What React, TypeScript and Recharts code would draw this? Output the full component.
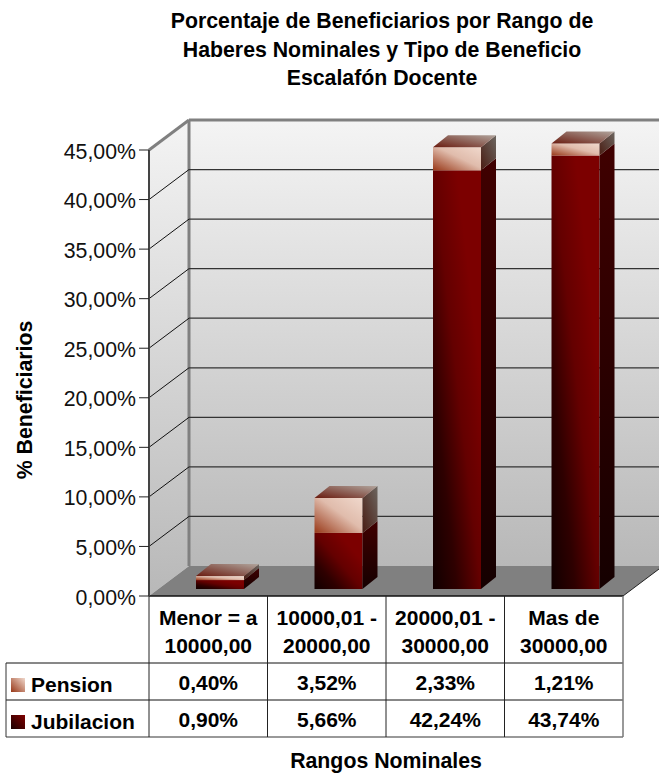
import React from "react"
import { BarChart, Bar, XAxis, YAxis, CartesianGrid } from "recharts"

const categories = ["Menor = a\n10000,00", "10000,01 -\n20000,00", "20000,01 -\n30000,00", "Mas de\n30000,00"]
const jubilacion = [0.9, 5.66, 42.24, 43.74]
const pension = [0.4, 3.52, 2.33, 1.21]
const yTicks = [0, 5, 10, 15, 20, 25, 30, 35, 40, 45]

const data = categories.map((name, i) => ({ name, jubilacion: jubilacion[i], pension: pension[i] }))

const WIDTH = 659
const HEIGHT = 773
const LEFT = 149
const RIGHT = 623
const TOP = 150
const BOTTOM = 596
// wall depth of the 3d box
const DX = 40
const DY = 30
// bar placement inside the box
const BAR_DX = 12
const BAR_DY = -7
const BAR_DEPTH_X = 15
const BAR_DEPTH_Y = 12

const ROW_1 = 663
const ROW_2 = 700
const ROW_3 = 737
const LABEL_FONT = "'Liberation Sans', Arial, sans-serif"

const pct = (v: number) => v.toFixed(2).replace(".", ",") + "%"

function Defs() {
  return (
    <defs>
      <linearGradient id="wall" x1="0" y1="0" x2="0" y2="1">
        <stop offset="0" stopColor="#f4f4f4" />
        <stop offset="1" stopColor="#b8b8b8" />
      </linearGradient>
      <linearGradient id="jubFront" x1="0" y1="1" x2="1" y2="0">
        <stop offset="0" stopColor="#100000" />
        <stop offset="0.25" stopColor="#2e0000" />
        <stop offset="0.5" stopColor="#640000" />
        <stop offset="0.75" stopColor="#7c0000" />
        <stop offset="1" stopColor="#7c0000" />
      </linearGradient>
      <linearGradient id="jubSide" x1="0" y1="0" x2="0" y2="1">
        <stop offset="0" stopColor="#400000" />
        <stop offset="1" stopColor="#150000" />
      </linearGradient>
      <linearGradient id="penFront" x1="0" y1="1" x2="1" y2="0">
        <stop offset="0" stopColor="#983818" />
        <stop offset="0.55" stopColor="#e0bcac" />
        <stop offset="1" stopColor="#f0d8cc" />
      </linearGradient>
      <linearGradient id="penSide" x1="0" y1="1" x2="1" y2="0">
        <stop offset="0" stopColor="#4a1c12" />
        <stop offset="1" stopColor="#6c6660" />
      </linearGradient>
      <linearGradient id="penTop" x1="0" y1="1" x2="1" y2="0">
        <stop offset="0" stopColor="#6a1c10" />
        <stop offset="1" stopColor="#b0a49c" />
      </linearGradient>
      <linearGradient id="jubKey" x1="0" y1="1" x2="1" y2="0">
        <stop offset="0" stopColor="#1a0000" />
        <stop offset="1" stopColor="#800000" />
      </linearGradient>
      <linearGradient id="penKey" x1="0" y1="1" x2="1" y2="0">
        <stop offset="0" stopColor="#983818" />
        <stop offset="1" stopColor="#f0d8cc" />
      </linearGradient>
    </defs>
  )
}

// back wall, side wall and floor
function Walls() {
  const bx = LEFT + DX
  const bt = TOP - DY
  const bb = BOTTOM - DY
  return (
    <g>
      <Defs />
      <rect x={bx} y={bt} width={WIDTH - bx + 10} height={bb - bt} fill="url(#wall)" />
      <polygon points={`${LEFT},${TOP} ${bx},${bt} ${bx},${bb} ${LEFT},${BOTTOM}`} fill="url(#wall)" />
      <polygon points={`${LEFT},${BOTTOM} ${bx},${bb} ${RIGHT + DX},${bb} ${RIGHT},${BOTTOM}`} fill="#808080" />
      <line x1={bx} y1={bt} x2={WIDTH} y2={bt} stroke="#808080" strokeWidth={3} />
      <line x1={bx} y1={bt} x2={bx} y2={bb} stroke="#808080" strokeWidth={3} />
      <line x1={LEFT} y1={TOP} x2={bx} y2={bt} stroke="#808080" strokeWidth={3} />
      <line x1={RIGHT} y1={BOTTOM} x2={RIGHT + DX} y2={bb} stroke="#222" strokeWidth={1} />
    </g>
  )
}

// gridline on the back wall plus its run down the side wall
// the grid sits below plain chart children, so the walls go in with the first line
function GridLine(props: any) {
  const { y1, index } = props
  const skip = y1 >= BOTTOM - 1 || y1 <= TOP + 1
  return (
    <g>
      {index === 0 && <Walls />}
      {!skip && (
        <>
          <line x1={LEFT} y1={y1} x2={LEFT + DX} y2={y1 - DY} stroke="#111" strokeWidth={1} />
          <line x1={LEFT + DX} y1={y1 - DY} x2={WIDTH} y2={y1 - DY} stroke="#333" strokeWidth={1.3} />
        </>
      )}
    </g>
  )
}

function Cuboid(props: any) {
  const { x, y, width, height, front, side, top } = props
  const l = x + BAR_DX
  const r = l + width
  const t = y + BAR_DY
  const b = t + height
  const dx = BAR_DEPTH_X
  const dy = BAR_DEPTH_Y
  return (
    <g>
      <rect x={l} y={t} width={width} height={height} fill={`url(#${front})`} />
      <polygon points={`${r},${t} ${r + dx},${t - dy} ${r + dx},${b - dy} ${r},${b}`} fill={`url(#${side})`} />
      {top && <polygon points={`${l},${t} ${l + dx},${t - dy} ${r + dx},${t - dy} ${r},${t}`} fill={`url(#${top})`} />}
    </g>
  )
}

// category header plus the two value cells of the data table
function TableTick(props: any) {
  const { x, index, payload } = props
  const [a, b] = String(payload.value).split("\n")
  const style = { fontFamily: LABEL_FONT, fontWeight: 700, fontSize: 21, fill: "#000" }
  return (
    <g>
      <text x={x} y={BOTTOM + 29} textAnchor="middle" {...style}>{a}</text>
      <text x={x} y={BOTTOM + 57} textAnchor="middle" {...style}>{b}</text>
      <text x={x} y={ROW_1 + 27} textAnchor="middle" {...style}>{pct(pension[index])}</text>
      <text x={x} y={ROW_2 + 27} textAnchor="middle" {...style}>{pct(jubilacion[index])}</text>
    </g>
  )
}

function TableFrame() {
  const cols = [LEFT, 267.5, 386, 504.5]
  const style = { fontFamily: LABEL_FONT, fontWeight: 700, fontSize: 21, fill: "#000" }
  return (
    <g>
      <line x1={LEFT} y1={BOTTOM} x2={RIGHT} y2={BOTTOM} stroke="#111" strokeWidth={1.5} />
      <line x1={6} y1={ROW_1} x2={RIGHT} y2={ROW_1} stroke="#111" />
      <line x1={6} y1={ROW_2} x2={RIGHT} y2={ROW_2} stroke="#111" />
      <line x1={6} y1={ROW_3} x2={RIGHT} y2={ROW_3} stroke="#777" strokeWidth={1.5} />
      <line x1={6} y1={ROW_1} x2={6} y2={ROW_3} stroke="#333" />
      {cols.map((c) => (
        <line key={c} x1={c} y1={BOTTOM} x2={c} y2={ROW_3} stroke="#222" />
      ))}
      <line x1={RIGHT} y1={BOTTOM} x2={RIGHT} y2={ROW_3} stroke="#777" strokeWidth={1.5} />
      <rect x={11} y={678} width={14} height={14} fill="url(#penKey)" />
      <rect x={11} y={715} width={14} height={14} fill="url(#jubKey)" />
      <text x={31} y={692} {...style}>Pension</text>
      <text x={31} y={729} {...style}>Jubilacion</text>
    </g>
  )
}

function Titles() {
  const style = { fontFamily: LABEL_FONT, fontWeight: 700, fontSize: 21.3, fill: "#000", textAnchor: "middle" as const }
  return (
    <g>
      <text x={382} y={28} {...style}>Porcentaje de Beneficiarios por Rango de</text>
      <text x={382} y={56.5} {...style}>Haberes Nominales y Tipo de Beneficio</text>
      <text x={382} y={85} {...style}>Escalafón Docente</text>
      <text x={386} y={768} {...style}>Rangos Nominales</text>
      <text x={0} y={0} transform="translate(32,400) rotate(-90)" {...style}>% Beneficiarios</text>
    </g>
  )
}

export default function App() {
  return (
    <div style={{ position: "absolute", left: 0, top: 0, width: WIDTH, height: HEIGHT, background: "#fff" }}>
      <BarChart
        width={WIDTH}
        height={HEIGHT}
        data={data}
        barSize={48}
        margin={{ top: TOP, right: WIDTH - RIGHT, bottom: 0, left: 0 }}
      >
        <CartesianGrid vertical={false} horizontal={GridLine} />
        <XAxis dataKey="name" axisLine={false} tickLine={false} tick={TableTick} interval={0} height={HEIGHT - BOTTOM} />
        <YAxis
          domain={[0, 45]}
          ticks={yTicks}
          width={LEFT}
          interval={0}
          tickFormatter={pct}
          tick={{ fontFamily: LABEL_FONT, fontSize: 21.3, fill: "#111", dy: 1 }}
          tickSize={10}
          tickMargin={3}
          axisLine={{ stroke: "#444", strokeWidth: 2 }}
          tickLine={{ stroke: "#222", strokeWidth: 1 }}
        />
        <Bar
          dataKey="jubilacion"
          stackId="a"
          isAnimationActive={false}
          shape={(p: any) => <Cuboid {...p} front="jubFront" side="jubSide" />}
        />
        <Bar
          dataKey="pension"
          stackId="a"
          isAnimationActive={false}
          shape={(p: any) => <Cuboid {...p} front="penFront" side="penSide" top="penTop" />}
        />
        <TableFrame />
        <Titles />
      </BarChart>
    </div>
  )
}
